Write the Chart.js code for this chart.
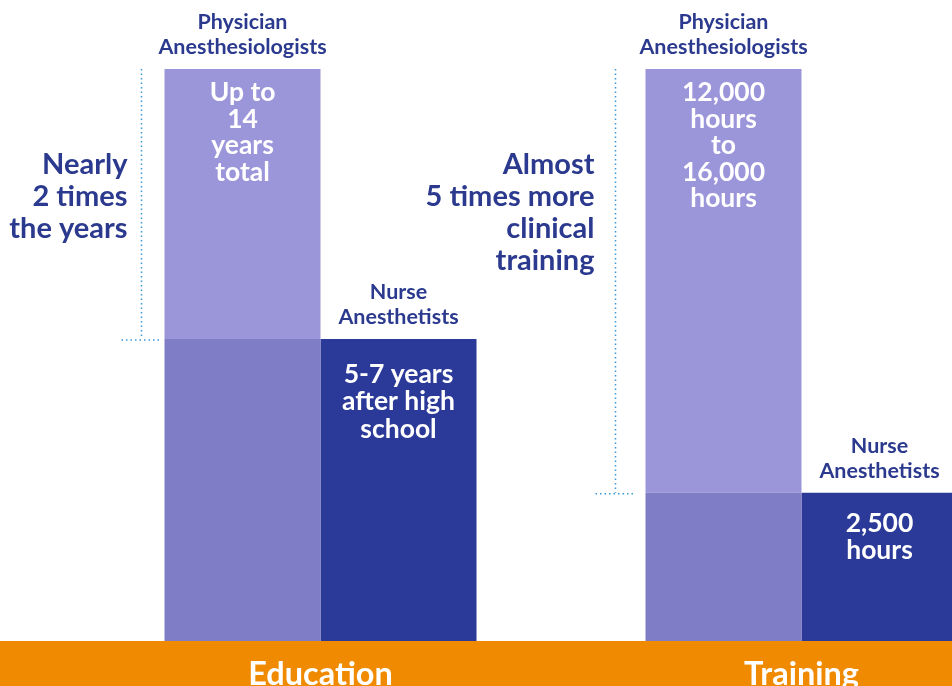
<!DOCTYPE html>
<html>
<head>
<meta charset="utf-8">
<script src="https://cdn.jsdelivr.net/npm/chart.js@4"></script>
<style>
  html, body { margin: 0; padding: 0; overflow: hidden; background: #ffffff; width: 952px; height: 686px; }
  #wrap { position: absolute; left: 0; top: 0; width: 1043px; height: 686px; }
</style>
</head>
<body>
<div id="wrap"><canvas id="c" width="1043" height="686"></canvas></div>
<script>
// ---- data ----
const categories = ['Education', 'Training'];
// relative bar heights (physician bar = 100)
const physicianHeight = [100, 100];
const nurseHeight = [52.8, 25.9];
const physicianHeader = ['Physician', 'Anesthesiologists'];
const nurseHeader = ['Nurse', 'Anesthetists'];
const physicianText = [['Up to', '14', 'years', 'total'], ['12,000', 'hours', 'to', '16,000', 'hours']];
const nurseText = [['5-7 years', 'after high', 'school'], ['2,500', 'hours']];
const comparisonText = [['Nearly', '2 times', 'the years'], ['Almost', '5 times more', 'clinical', 'training']];

const physicianExtra = physicianHeight.map((v, i) => v - nurseHeight[i]);

const COLORS = {
  physBase: '#7F7DC6',
  physExtra: '#9B95DA',
  nurse: '#2B3A98',
  text: '#2B3A8E',
  orange: '#F08A00',
  dots: '#3A9AD9'
};
const FONT = 'Lato, "Open Sans", sans-serif';

const bandPlugin = {
  id: 'band',
  beforeDraw(chart) {
    const { ctx, chartArea, width, height } = chart;
    ctx.save();
    ctx.fillStyle = COLORS.orange;
    ctx.fillRect(0, chartArea.bottom, width, height - chartArea.bottom);
    ctx.restore();
  }
};

const annotatePlugin = {
  id: 'annotate',
  afterDatasetsDraw(chart) {
    const { ctx } = chart;
    const xScale = chart.scales.x;
    const base = chart.getDatasetMeta(0).data;
    const extra = chart.getDatasetMeta(1).data;
    const nurse = chart.getDatasetMeta(2).data;
    const annRightOffset = [37, 51];
    const nurseFirstOffset = [44, 39];
    const bracketOffset = [23, 30];
    ctx.save();
    ctx.textBaseline = 'alphabetic';
    categories.forEach((cat, i) => {
      const pb = base[i], pe = extra[i], nb = nurse[i];
      const physLeft = pb.x - pb.width / 2;
      const physTop = pe.y;
      const nurseTop = nb.y;

      // headers
      ctx.fillStyle = COLORS.text;
      ctx.font = 'bold 21.5px ' + FONT;
      ctx.textAlign = 'center';
      ctx.fillText(physicianHeader[0], pe.x, physTop - 40);
      ctx.fillText(physicianHeader[1], pe.x, physTop - 15);
      ctx.fillText(nurseHeader[0], nb.x, nurseTop - 40);
      ctx.fillText(nurseHeader[1], nb.x, nurseTop - 15);

      // inner texts
      ctx.fillStyle = '#ffffff';
      ctx.font = 'bold 26.5px ' + FONT;
      physicianText[i].forEach((t, k) => ctx.fillText(t, pe.x, physTop + 32 + k * 26.5));
      nurseText[i].forEach((t, k) => ctx.fillText(t, nb.x, nurseTop + nurseFirstOffset[i] + k * 27.5));

      // comparison text
      ctx.fillStyle = COLORS.text;
      ctx.font = 'bold 29px ' + FONT;
      ctx.textAlign = 'right';
      comparisonText[i].forEach((t, k) => ctx.fillText(t, physLeft - annRightOffset[i], physTop + 105 + k * 32));

      // dotted bracket
      ctx.strokeStyle = COLORS.dots;
      ctx.lineWidth = 1.5;
      ctx.setLineDash([1.5, 3]);
      ctx.beginPath();
      const vx = physLeft - bracketOffset[i];
      ctx.moveTo(vx, physTop);
      ctx.lineTo(vx, nurseTop);
      ctx.moveTo(vx - 20, nurseTop + 1);
      ctx.lineTo(vx + 20, nurseTop + 1);
      ctx.stroke();
      ctx.setLineDash([]);

      // category label
      ctx.fillStyle = '#ffffff';
      ctx.font = 'bold 32.5px ' + FONT;
      ctx.textAlign = 'center';
      ctx.fillText(cat, xScale.getPixelForValue(i), 685);
    });
    ctx.restore();
  }
};

new Chart(document.getElementById('c'), {
  type: 'bar',
  data: {
    labels: categories,
    datasets: [
      { label: 'Physician (shared)', data: nurseHeight, backgroundColor: COLORS.physBase, stack: 'phys' },
      { label: 'Physician (additional)', data: physicianExtra, backgroundColor: COLORS.physExtra, stack: 'phys' },
      { label: 'Nurse', data: nurseHeight, backgroundColor: COLORS.nurse, stack: 'nurse' }
    ]
  },
  options: {
    responsive: false,
    animation: false,
    devicePixelRatio: 1,
    layout: { padding: { left: 80, right: 1, top: 69, bottom: 45 } },
    datasets: { bar: { categoryPercentage: 312 / 481, barPercentage: 1, borderWidth: 0 } },
    scales: {
      x: { stacked: true, display: false },
      y: { stacked: true, display: false, min: 0, max: 100 }
    },
    plugins: { legend: { display: false }, tooltip: { enabled: false } }
  },
  plugins: [bandPlugin, annotatePlugin]
});
</script>
</body>
</html>
